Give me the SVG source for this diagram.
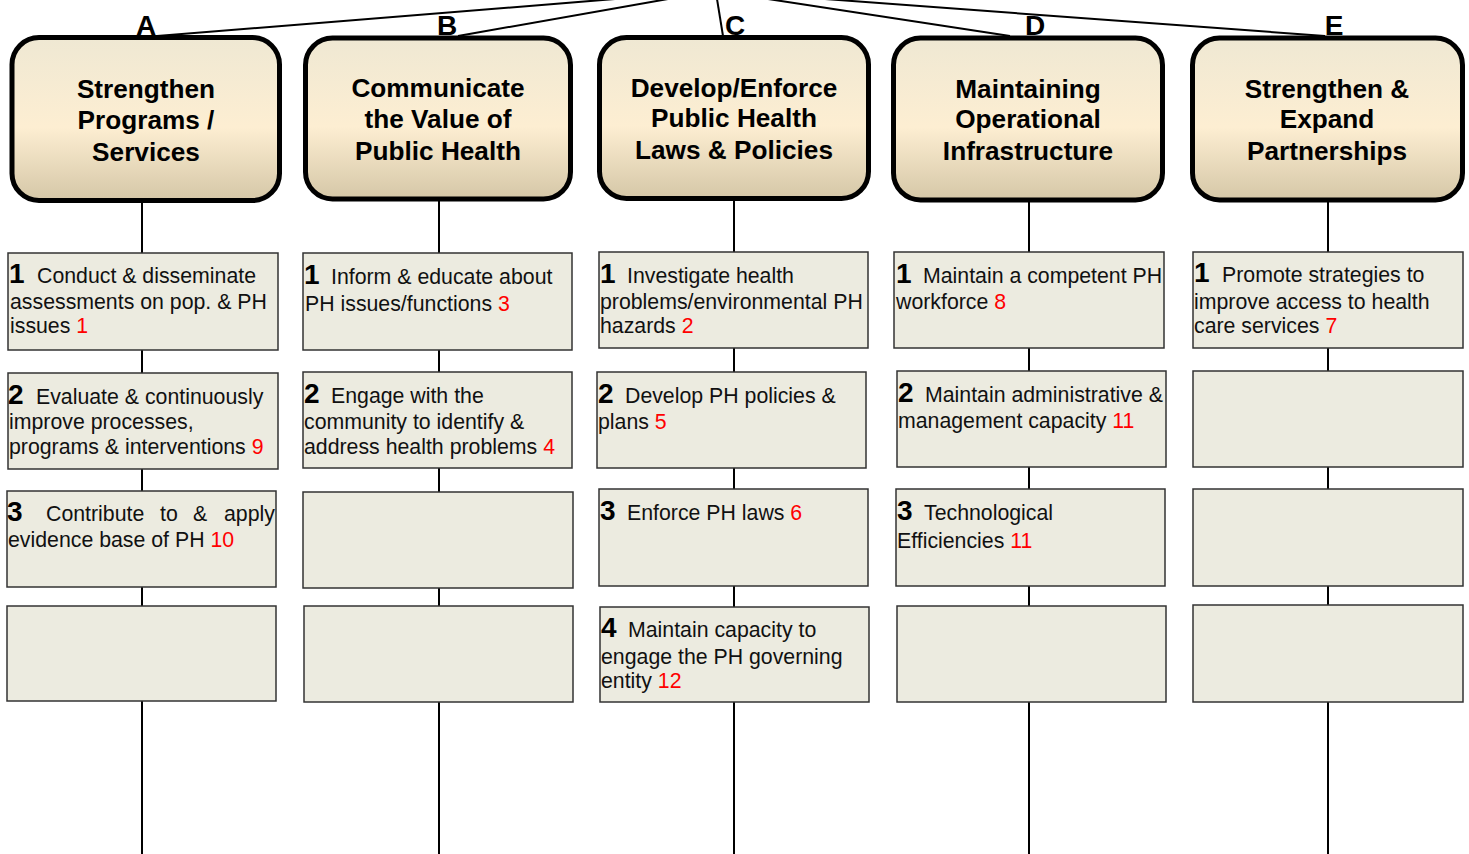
<svg xmlns="http://www.w3.org/2000/svg" width="1469" height="854" viewBox="0 0 1469 854">
<style>
.hdr{stroke:#000;stroke-width:5;fill:url(#hg)}
.box{fill:#ecebe0;stroke:#333;stroke-width:1.5}
.ln{stroke:#000;stroke-width:2;fill:none}
.ht{font-family:"Liberation Sans",Arial,sans-serif;font-weight:bold;font-size:26.2px;fill:#000;text-anchor:middle}
.lt{font-family:"Liberation Sans",Arial,sans-serif;font-weight:bold;font-size:28px;fill:#000;text-anchor:middle}
.t{font-family:"Liberation Sans",Arial,sans-serif;font-size:21.3px;fill:#111}
.n{font-weight:bold;font-size:28px;fill:#000}
.r{fill:#ff0000}
</style>
<defs>
<linearGradient id="hg" x1="0" y1="0" x2="0" y2="1">
<stop offset="0" stop-color="#efe8d3"/>
<stop offset="0.55" stop-color="#fdeed2"/>
<stop offset="1" stop-color="#d5c7a7"/>
</linearGradient>
</defs>
<rect width="1469" height="854" fill="#fff"/>
<g id="connectors">
<line class="ln" x1="157" y1="36" x2="615" y2="-1"/>
<line class="ln" x1="458" y1="36" x2="668" y2="-1"/>
<line class="ln" x1="723" y1="36" x2="717" y2="-1"/>
<line class="ln" x1="1010" y1="36" x2="768" y2="-1"/>
<line class="ln" x1="1325" y1="36" x2="825" y2="-1"/>
<line class="ln" x1="142" y1="200" x2="142" y2="854"/>
<line class="ln" x1="439" y1="200" x2="439" y2="854"/>
<line class="ln" x1="734" y1="200" x2="734" y2="854"/>
<line class="ln" x1="1029" y1="200" x2="1029" y2="854"/>
<line class="ln" x1="1328" y1="200" x2="1328" y2="854"/>
</g>
<g id="hA">
<rect class="hdr" x="12" y="37.5" width="267.5" height="163" rx="27"/>
<text class="ht" x="146" y="98">Strengthen</text>
<text class="ht" x="146" y="129">Programs /</text>
<text class="ht" x="146" y="161">Services</text>
<text class="lt" x="146" y="35">A</text>
</g>
<g id="hB">
<rect class="hdr" x="305.5" y="38" width="265" height="161" rx="27"/>
<text class="ht" x="438" y="97">Communicate</text>
<text class="ht" x="438" y="128">the Value of</text>
<text class="ht" x="438" y="160">Public Health</text>
<text class="lt" x="447" y="35">B</text>
</g>
<g id="hC">
<rect class="hdr" x="599.5" y="37.5" width="269" height="161" rx="27"/>
<text class="ht" x="734" y="97">Develop/Enforce</text>
<text class="ht" x="734" y="127">Public Health</text>
<text class="ht" x="734" y="159">Laws &amp; Policies</text>
<text class="lt" x="735" y="35">C</text>
</g>
<g id="hD">
<rect class="hdr" x="893.5" y="38" width="269" height="162" rx="27"/>
<text class="ht" x="1028" y="98">Maintaining</text>
<text class="ht" x="1028" y="128">Operational</text>
<text class="ht" x="1028" y="160">Infrastructure</text>
<text class="lt" x="1035" y="35">D</text>
</g>
<g id="hE">
<rect class="hdr" x="1192.5" y="38" width="270" height="162" rx="27"/>
<text class="ht" x="1327" y="98">Strengthen &amp;</text>
<text class="ht" x="1327" y="128">Expand</text>
<text class="ht" x="1327" y="160">Partnerships</text>
<text class="lt" x="1334" y="35">E</text>
</g>
<g id="A1">
<rect class="box" x="8" y="253" width="270" height="97"/>
<text class="t" y="283"><tspan class="n" x="9">1</tspan><tspan x="37">Conduct &amp; disseminate</tspan></text>
<text class="t" x="10" y="309">assessments on pop. &amp; PH</text>
<text class="t" x="10" y="333">issues <tspan class="r">1</tspan></text>
</g>
<g id="A2">
<rect class="box" x="8" y="373" width="270" height="96"/>
<text class="t" y="404"><tspan class="n" x="8">2</tspan><tspan x="36">Evaluate &amp; continuously</tspan></text>
<text class="t" x="9" y="429">improve processes,</text>
<text class="t" x="9" y="454">programs &amp; interventions <tspan class="r">9</tspan></text>
</g>
<g id="A3">
<rect class="box" x="7" y="491" width="269" height="96"/>
<text class="t" y="521"><tspan class="n" x="7">3</tspan><tspan x="46">Contribute</tspan><tspan x="160">to</tspan><tspan x="193">&amp;</tspan><tspan x="224">apply</tspan></text>
<text class="t" x="8" y="547">evidence base of PH <tspan class="r">10</tspan></text>
</g>
<g id="A4">
<rect class="box" x="7" y="606" width="269" height="95"/>
</g>
<g id="B1">
<rect class="box" x="303" y="253" width="269" height="97"/>
<text class="t" y="284"><tspan class="n" x="304">1</tspan><tspan x="331">Inform &amp; educate about</tspan></text>
<text class="t" x="305" y="311">PH issues/functions <tspan class="r">3</tspan></text>
</g>
<g id="B2">
<rect class="box" x="303" y="372" width="269" height="96"/>
<text class="t" y="403"><tspan class="n" x="304">2</tspan><tspan x="331">Engage with the</tspan></text>
<text class="t" x="304" y="429">community to identify &amp;</text>
<text class="t" x="304" y="454">address health problems <tspan class="r">4</tspan></text>
</g>
<g id="B3">
<rect class="box" x="303" y="492" width="270" height="96"/>
</g>
<g id="B4">
<rect class="box" x="304" y="606" width="269" height="96"/>
</g>
<g id="C1">
<rect class="box" x="599" y="252" width="269" height="96"/>
<text class="t" y="283"><tspan class="n" x="600">1</tspan><tspan x="627">Investigate health</tspan></text>
<text class="t" x="600" y="309">problems/environmental PH</text>
<text class="t" x="600" y="333">hazards <tspan class="r">2</tspan></text>
</g>
<g id="C2">
<rect class="box" x="597" y="372" width="269" height="96"/>
<text class="t" y="403"><tspan class="n" x="598">2</tspan><tspan x="625">Develop PH policies &amp;</tspan></text>
<text class="t" x="598" y="429">plans <tspan class="r">5</tspan></text>
</g>
<g id="C3">
<rect class="box" x="599" y="489" width="269" height="97"/>
<text class="t" y="520"><tspan class="n" x="600">3</tspan><tspan x="627">Enforce PH laws </tspan><tspan class="r">6</tspan></text>
</g>
<g id="C4">
<rect class="box" x="600" y="607" width="269" height="95"/>
<text class="t" y="637"><tspan class="n" x="601">4</tspan><tspan x="628">Maintain capacity to</tspan></text>
<text class="t" x="601" y="664">engage the PH governing</text>
<text class="t" x="601" y="688">entity <tspan class="r">12</tspan></text>
</g>
<g id="D1">
<rect class="box" x="894" y="252" width="270" height="96"/>
<text class="t" y="283"><tspan class="n" x="896">1</tspan><tspan x="923">Maintain a competent PH</tspan></text>
<text class="t" x="896" y="309">workforce <tspan class="r">8</tspan></text>
</g>
<g id="D2">
<rect class="box" x="897" y="371" width="269" height="96"/>
<text class="t" y="402"><tspan class="n" x="898">2</tspan><tspan x="925">Maintain administrative &amp;</tspan></text>
<text class="t" x="898" y="428">management capacity <tspan class="r">11</tspan></text>
</g>
<g id="D3">
<rect class="box" x="896" y="489" width="269" height="97"/>
<text class="t" y="520"><tspan class="n" x="897">3</tspan><tspan x="924">Technological</tspan></text>
<text class="t" x="897" y="548">Efficiencies <tspan class="r">11</tspan></text>
</g>
<g id="D4">
<rect class="box" x="897" y="606" width="269" height="96"/>
</g>
<g id="E1">
<rect class="box" x="1193" y="252" width="270" height="96"/>
<text class="t" y="282"><tspan class="n" x="1194">1</tspan><tspan x="1222">Promote strategies to</tspan></text>
<text class="t" x="1194" y="309">improve access to health</text>
<text class="t" x="1194" y="333">care services <tspan class="r">7</tspan></text>
</g>
<g id="E2">
<rect class="box" x="1193" y="371" width="270" height="96"/>
</g>
<g id="E3">
<rect class="box" x="1193" y="489" width="270" height="97"/>
</g>
<g id="E4">
<rect class="box" x="1193" y="605" width="270" height="97"/>
</g>
</svg>
